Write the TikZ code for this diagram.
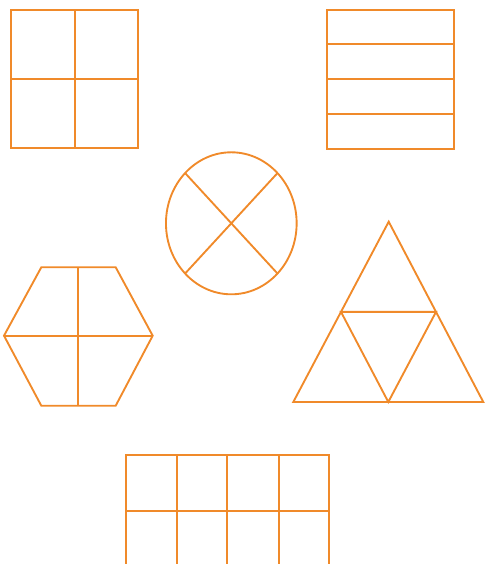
\documentclass[tikz,border=0pt]{standalone}
\usepackage{tikz}
\definecolor{stroke}{HTML}{F08A2A}

\begin{document}
\begin{tikzpicture}[
  x=0.03cm,y=-0.03cm,
  outline/.style={draw=stroke,line width=1.6pt,line join=miter},
  divide/.style={draw=stroke,line width=1.6pt},
]
\clip (0,0) rectangle (485,564);

% square in quarters
\draw[outline] (11,10) rectangle (138,148);
\draw[divide] (75,10) -- (75,148);
\draw[divide] (11,79) -- (138,79);

% rectangle in four strips
\draw[outline] (326.7,9.7) rectangle (454.3,149);
\draw[divide] (326.7,44) -- (454.3,44);
\draw[divide] (326.7,79.3) -- (454.3,79.3);
\draw[divide] (326.7,114) -- (454.3,114);

% ellipse with a cross
\coordinate (ctr) at (231.3,223.3);
\draw[outline] (ctr) ellipse [x radius=1.96cm,y radius=2.13cm];
\draw[divide] (ctr) +(135:65.3 and 71) -- +(-45:65.3 and 71);
\draw[divide] (ctr) +(45:65.3 and 71) -- +(-135:65.3 and 71);

% hexagon in quarters
\draw[outline] (41.3,267.3) -- (115.7,267.3) -- (152.7,335.7) -- (115.7,405.7)
  -- (41.3,405.7) -- (4,335.7) -- cycle;
\draw[divide] (78.3,267.3) -- (78.3,405.7);
\draw[divide] (4,335.7) -- (152.7,335.7);

% triangle in four
\draw[outline] (388.7,221.7) -- (483.3,402) -- (293.3,402) -- cycle;
\draw[divide] (341,311.9) -- (436,311.9) -- (388.3,402) -- cycle;

% grid, cut off at the bottom
\draw[outline] (125.7,455) rectangle (329,620);
\draw[divide] (176.7,455) -- (176.7,620);
\draw[divide] (227.3,455) -- (227.3,620);
\draw[divide] (278.7,455) -- (278.7,620);
\draw[divide] (125.7,510.7) -- (329,510.7);
\end{tikzpicture}
\end{document}
